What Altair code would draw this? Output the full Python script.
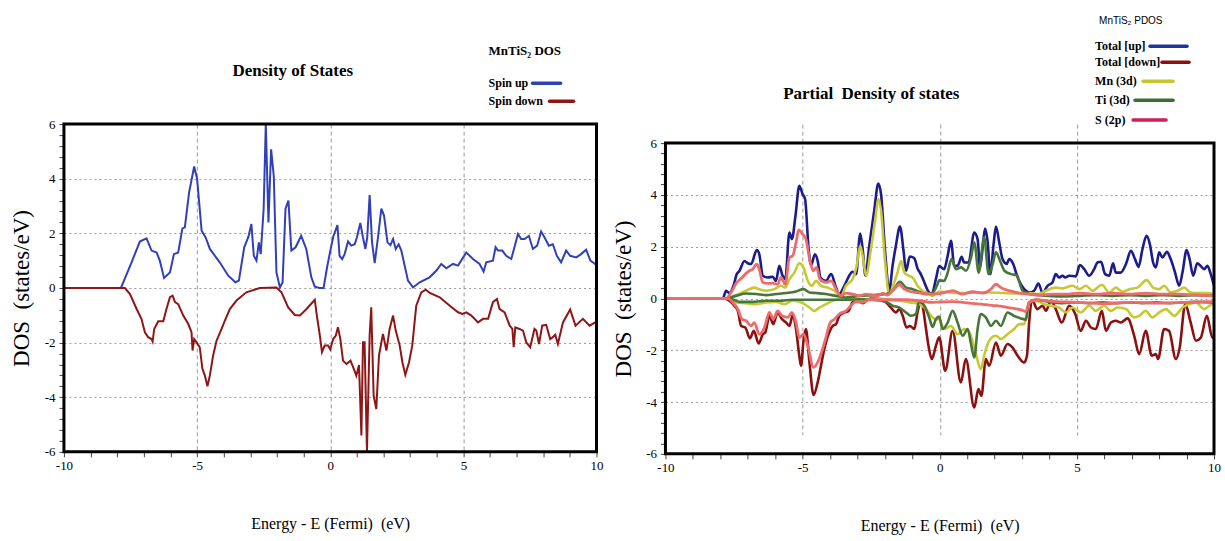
import altair as alt
import pandas as pd

# ---------------- data: left panel (MnTiS2 total DOS) ----------------
spin_up = [(-10, 0), (-7.86, 0), (-7.46, 0.94), (-7.15, 1.70), (-6.9, 1.82), (-6.71, 1.37), (-6.52, 1.30),
           (-6.4, 1.0), (-6.24, 0.37), (-6.02, 0.57), (-5.87, 1.24), (-5.71, 1.30), (-5.55, 2.18), (-5.46, 2.22),
           (-5.3, 3.5), (-5.11, 4.45), (-5.0, 4.0), (-4.83, 2.1), (-4.68, 1.85), (-4.62, 1.7), (-4.52, 1.43),
           (-4.15, 0.94), (-3.83, 0.45), (-3.56, 0.21), (-3.43, 0.27), (-3.23, 1.49), (-3.08, 1.85), (-2.96, 2.34),
           (-2.87, 1.18), (-2.77, 1.0), (-2.68, 1.67), (-2.61, 1.24), (-2.5, 2.9), (-2.42, 6.0), (-2.32, 2.4),
           (-2.22, 5.08), (-2.12, 4.1), (-2.02, 0.57), (-1.89, 0.02), (-1.79, 0.2), (-1.68, 2.9), (-1.57, 3.2),
           (-1.46, 1.37), (-1.3, 1.49), (-1.09, 1.91), (-0.9, 1.43), (-0.71, 0.39), (-0.58, 0.05), (-0.4, 0.0),
           (-0.25, 0.0), (-0.12, 0.75), (0.0, 1.35), (0.12, 1.9), (0.27, 2.3), (0.35, 1.18), (0.45, 1.06),
           (0.54, 1.24), (0.67, 1.7), (0.79, 1.55), (0.92, 1.6), (1.0, 1.85), (1.13, 2.38), (1.23, 1.85),
           (1.32, 1.43), (1.39, 1.85), (1.48, 3.4), (1.57, 1.67), (1.67, 0.91), (1.8, 1.91), (1.92, 2.91),
           (2.02, 2.65), (2.15, 1.67), (2.26, 1.57), (2.36, 1.79), (2.46, 1.43), (2.57, 1.6), (2.67, 1.37),
           (2.92, 0.27), (3.11, 0.02), (3.36, 0.21), (3.73, 0.39), (3.98, 0.63), (4.17, 0.88), (4.36, 0.72),
           (4.61, 0.88), (4.8, 0.82), (5.11, 1.3), (5.36, 1.06), (5.61, 0.88), (5.76, 0.6), (5.86, 0.94),
           (6.11, 1.0), (6.21, 1.49), (6.3, 1.37), (6.46, 1.37), (6.61, 1.18), (6.8, 1.06), (7.05, 1.98),
           (7.17, 1.79), (7.3, 1.79), (7.46, 1.91), (7.61, 1.43), (7.77, 1.55), (7.92, 2.07), (8.05, 1.85),
           (8.21, 1.55), (8.36, 1.6), (8.51, 1.18), (8.67, 0.94), (8.86, 1.37), (9.01, 1.18), (9.24, 1.12),
           (9.42, 1.24), (9.61, 1.4), (9.77, 1.0), (10.0, 0.84)]

spin_down = [(-10, 0), (-7.71, 0), (-7.52, -0.22), (-7.27, -0.77), (-7.09, -1.13), (-6.96, -1.62), (-6.84, -1.8),
             (-6.71, -1.87), (-6.67, -1.96), (-6.61, -1.5), (-6.46, -1.22), (-6.27, -1.22), (-6.15, -0.77),
             (-6.02, -0.34), (-5.92, -0.28), (-5.83, -0.52), (-5.71, -0.59), (-5.52, -1.01), (-5.33, -1.32),
             (-5.21, -1.62), (-5.17, -2.29), (-5.11, -1.87), (-5.02, -1.99), (-4.9, -2.17), (-4.8, -2.96),
             (-4.71, -3.2), (-4.61, -3.6), (-4.52, -3.2), (-4.4, -2.48), (-4.27, -1.93), (-4.08, -1.5),
             (-3.96, -1.2), (-3.77, -0.77), (-3.52, -0.46), (-3.15, -0.16), (-2.65, 0.0), (-2.02, 0.02),
             (-1.83, -0.16), (-1.58, -0.71), (-1.33, -0.99), (-1.14, -1.01), (-0.89, -0.77), (-0.58, -0.43),
             (-0.52, -0.89), (-0.39, -1.74), (-0.31, -2.35), (-0.21, -2.11), (-0.08, -2.11), (0.0, -2.25),
             (0.11, -1.87), (0.21, -1.74), (0.29, -1.44), (0.38, -1.87), (0.48, -2.66), (0.61, -2.78),
             (0.76, -2.66), (0.86, -2.9), (0.98, -3.21), (1.08, -2.82), (1.17, -5.4), (1.23, -1.99),
             (1.29, -1.99), (1.38, -6.0), (1.48, -1.74), (1.54, -0.71), (1.63, -3.94), (1.73, -4.43),
             (1.83, -2.48), (1.98, -1.68), (2.11, -2.29), (2.23, -1.5), (2.36, -1.01), (2.46, -1.56),
             (2.61, -2.11), (2.71, -2.72), (2.82, -3.18), (2.96, -2.72), (3.08, -2.11), (3.23, -0.65),
             (3.42, -0.16), (3.59, -0.06), (3.74, -0.18), (4.11, -0.34), (4.49, -0.65), (4.8, -0.89),
             (4.96, -0.95), (5.11, -0.89), (5.3, -1.01), (5.55, -1.26), (5.74, -1.13), (5.93, -1.13),
             (6.11, -0.52), (6.26, -0.4), (6.36, -0.77), (6.55, -0.89), (6.74, -1.38), (6.84, -1.5),
             (6.89, -2.17), (6.95, -1.44), (7.11, -1.5), (7.24, -1.56), (7.36, -1.99), (7.51, -2.17),
             (7.67, -1.5), (7.74, -1.56), (7.84, -2.05), (7.96, -1.38), (8.11, -1.35), (8.26, -1.87),
             (8.36, -1.8), (8.45, -1.71), (8.55, -2.05), (8.74, -1.26), (9.01, -0.79), (9.21, -1.38),
             (9.49, -1.13), (9.74, -1.38), (10.0, -1.23)]

# ---------------- data: right panel (partial DOS) ----------------
total_up = [(-10, 0), (-7.91, 0), (-7.79, 0.3), (-7.67, 0.21), (-7.52, 0.49), (-7.4, 0.94), (-7.3, 1.07),
            (-7.12, 1.45), (-7.0, 1.36), (-6.88, 1.33), (-6.67, 1.87), (-6.58, 1.71), (-6.45, 0.88),
            (-6.27, 0.81), (-6.09, 0.84), (-5.97, 0.68), (-5.85, 1.26), (-5.73, 0.88), (-5.63, 0.75),
            (-5.48, 2.55), (-5.39, 2.29), (-5.26, 3.19), (-5.12, 4.35), (-5.0, 4.03), (-4.91, 3.84),
            (-4.78, 1.9), (-4.69, 1.29), (-4.55, 1.71), (-4.45, 1.45), (-4.35, 0.81), (-4.15, 0.68),
            (-3.96, 0.94), (-3.78, 0.42), (-3.66, 0.17), (-3.48, 0.49), (-3.3, 0.88), (-3.18, 1.03),
            (-3.05, 0.94), (-2.9, 2.51), (-2.81, 1.9), (-2.71, 0.88), (-2.57, 2.03), (-2.39, 3.38),
            (-2.24, 4.44), (-2.14, 4.03), (-1.99, 1.78), (-1.84, 0.3), (-1.72, 1.26), (-1.6, 2.03),
            (-1.45, 2.78), (-1.32, 1.84), (-1.23, 1.07), (-1.09, 1.62), (-0.93, 1.56), (-0.81, 1.16),
            (-0.69, 0.94), (-0.56, 0.62), (-0.41, 0.26), (-0.29, 0.17), (-0.14, 0.75), (-0.02, 1.25),
            (0.16, 1.13), (0.29, 1.65), (0.41, 2.23), (0.53, 1.26), (0.65, 1.26), (0.8, 1.61), (0.89, 1.39),
            (1.05, 1.39), (1.26, 2.55), (1.38, 2.29), (1.47, 1.2), (1.56, 1.9), (1.65, 2.7), (1.75, 2.16),
            (1.84, 0.94), (1.97, 2.16), (2.05, 2.78), (2.17, 2.16), (2.29, 1.52), (2.44, 1.33), (2.53, 1.52),
            (2.68, 1.33), (2.8, 0.94), (2.92, 0.62), (3.08, 0.36), (3.26, 0.23), (3.44, 0.3), (3.6, 0.58),
            (3.75, 0.21), (3.93, 0.49), (4.11, 0.62), (4.23, 0.94), (4.35, 0.81), (4.48, 0.88), (4.57, 0.81),
            (4.72, 0.88), (4.96, 0.85), (5.11, 1.29), (5.27, 1.13), (5.45, 0.88), (5.63, 1.13), (5.75, 1.39),
            (5.88, 1.42), (6.03, 0.94), (6.18, 0.88), (6.32, 1.36), (6.42, 1.0), (6.6, 1.0), (6.79, 1.33),
            (6.97, 1.84), (7.12, 1.52), (7.25, 1.22), (7.39, 1.9), (7.54, 2.42), (7.66, 2.1), (7.78, 1.39),
            (7.88, 1.2), (8.0, 1.78), (8.12, 1.58), (8.28, 1.8), (8.42, 1.52), (8.58, 1.0), (8.73, 0.49),
            (8.85, 1.0), (9.0, 1.87), (9.11, 1.52), (9.24, 0.88), (9.39, 1.36), (9.51, 1.26), (9.64, 1.13),
            (9.76, 1.26), (9.88, 0.94), (10.0, 0.49)]

total_down = [(-10, 0), (-7.85, 0), (-7.67, -0.09), (-7.49, -0.28), (-7.36, -0.48), (-7.24, -1.06), (-7.09, -1.12),
              (-6.92, -1.54), (-6.78, -1.25), (-6.6, -1.74), (-6.45, -1.38), (-6.36, -1.31), (-6.21, -0.67),
              (-6.07, -0.99), (-5.91, -0.54), (-5.75, -0.8), (-5.6, -0.93), (-5.48, -1.06), (-5.36, -0.64),
              (-5.24, -1.18), (-5.12, -2.21), (-5.06, -2.6), (-4.96, -1.57), (-4.88, -1.18), (-4.75, -2.47),
              (-4.6, -3.73), (-4.45, -3.24), (-4.33, -2.6), (-4.21, -1.96), (-4.03, -1.31), (-3.9, -1.06),
              (-3.78, -0.99), (-3.66, -0.67), (-3.48, -0.54), (-3.32, -0.48), (-3.18, -0.15), (-2.99, -0.09),
              (-2.81, -0.18), (-2.63, -0.05), (-2.45, 0.02), (-2.2, -0.03), (-1.96, -0.15), (-1.78, -0.35),
              (-1.6, -0.54), (-1.47, -0.41), (-1.35, -0.67), (-1.21, -1.12), (-1.09, -1.06), (-0.93, -1.18),
              (-0.81, -0.54), (-0.71, -0.15), (-0.63, -0.28), (-0.5, -1.18), (-0.41, -1.83), (-0.29, -2.34),
              (-0.14, -1.83), (-0.02, -1.5), (0.2, -2.79), (0.47, -1.25), (0.77, -3.24), (0.95, -2.34),
              (1.26, -4.21), (1.41, -3.5), (1.52, -3.76), (1.68, -2.34), (1.8, -2.6), (2.05, -1.7),
              (2.23, -2.21), (2.47, -1.76), (2.65, -1.89), (2.84, -2.21), (3.08, -2.47), (3.18, -2.21),
              (3.26, -0.93), (3.38, -0.09), (3.56, -0.41), (3.75, -0.28), (3.87, -0.48), (4.05, -0.09),
              (4.23, -0.41), (4.45, -0.93), (4.72, -0.28), (4.94, -0.6), (5.14, -1.25), (5.33, -0.86),
              (5.51, -1.12), (5.69, -1.18), (5.91, -0.48), (6.06, -1.25), (6.24, -0.93), (6.42, -0.86),
              (6.6, -0.93), (6.85, -0.77), (7.09, -1.44), (7.27, -2.15), (7.51, -1.25), (7.73, -2.21),
              (7.88, -2.15), (7.96, -2.34), (8.18, -1.18), (8.36, -1.25), (8.61, -2.34), (8.75, -1.89),
              (8.95, -0.22), (9.15, -0.93), (9.34, -1.63), (9.52, -1.51), (9.74, -0.67), (9.94, -1.51),
              (10.0, -1.5)]

mn_up = [(-10, 0), (-7.9, 0), (-7.43, 0.13), (-7.06, 0.3), (-6.76, 0.42), (-6.58, 0.36), (-6.33, 0.3),
         (-6.03, 0.36), (-5.79, 0.49), (-5.63, 0.42), (-5.48, 0.75), (-5.3, 1.0), (-5.12, 1.36), (-4.97, 1.2),
         (-4.81, 0.68), (-4.66, 0.49), (-4.51, 0.68), (-4.33, 0.49), (-4.09, 0.42), (-3.84, 0.3), (-3.6, 0.1),
         (-3.42, 0.49), (-3.18, 0.75), (-3.03, 1.26), (-2.9, 2.03), (-2.79, 1.52), (-2.69, 0.88), (-2.51, 1.9),
         (-2.35, 3.06), (-2.24, 3.84), (-2.14, 3.38), (-1.99, 1.39), (-1.84, 0.17), (-1.66, 0.62), (-1.54, 1.0),
         (-1.41, 1.45), (-1.29, 1.0), (-1.14, 0.88), (-0.99, 0.81), (-0.81, 0.49), (-0.63, 0.3), (-0.44, 0.21),
         (-0.26, 0.1), (-0.02, 0.27), (0.35, 0.23), (0.83, 0.21), (1.32, 0.23), (1.8, 0.23), (2.29, 0.21),
         (2.78, 0.19), (3.26, 0.21), (3.62, 0.17), (3.87, 0.3), (4.23, 0.42), (4.48, 0.39), (4.84, 0.49),
         (5.09, 0.36), (5.33, 0.49), (5.57, 0.3), (5.91, 0.53), (6.18, 0.23), (6.42, 0.42), (6.66, 0.26),
         (6.91, 0.36), (7.21, 0.42), (7.54, 0.71), (7.78, 0.42), (8.0, 0.36), (8.18, 0.49), (8.42, 0.23),
         (8.67, 0.3), (8.91, 0.42), (9.15, 0.23), (9.45, 0.21), (9.76, 0.21), (10.0, 0.17)]

mn_down = [(-10, 0), (-7.67, 0), (-7.43, -0.15), (-7.06, -0.18), (-6.7, -0.22), (-6.33, -0.15), (-5.97, -0.13),
           (-5.66, -0.22), (-5.36, -0.09), (-5.0, -0.18), (-4.75, -0.35), (-4.57, -0.48), (-4.39, -0.35),
           (-4.15, -0.22), (-3.9, -0.09), (-3.6, -0.03), (-3.18, -0.05), (-2.69, -0.03), (-2.2, 0.0),
           (-1.84, -0.05), (-1.47, -0.09), (-1.11, -0.15), (-0.75, -0.22), (-0.5, -0.41), (-0.32, -0.67),
           (-0.14, -0.8), (-0.02, -0.8), (0.16, -1.18), (0.41, -1.06), (0.65, -1.38), (0.89, -1.18),
           (1.08, -1.31), (1.32, -2.15), (1.5, -2.73), (1.62, -2.21), (1.8, -1.63), (2.05, -1.44),
           (2.23, -1.57), (2.47, -1.38), (2.71, -1.18), (2.9, -0.99), (3.08, -0.99), (3.26, -0.15),
           (3.5, -0.09), (3.81, -0.22), (4.05, -0.28), (4.35, -0.35), (4.6, -0.54), (4.84, -0.35),
           (5.14, -0.54), (5.45, -0.28), (5.69, -0.48), (5.99, -0.28), (6.24, -0.48), (6.48, -0.35),
           (6.79, -0.41), (7.09, -0.73), (7.27, -0.67), (7.51, -0.48), (7.76, -0.73), (8.0, -0.54),
           (8.24, -0.41), (8.55, -0.67), (8.85, -0.35), (9.09, -0.22), (9.34, -0.15), (9.64, -0.41),
           (9.94, -0.22), (10.0, -0.22)]

ti_up = [(-10, 0), (-7.79, 0), (-7.43, 0.1), (-7.06, 0.19), (-6.7, 0.17), (-6.33, 0.13), (-5.97, 0.17),
         (-5.6, 0.21), (-5.24, 0.27), (-4.97, 0.36), (-4.75, 0.23), (-4.51, 0.21), (-4.15, 0.17), (-3.78, 0.1),
         (-3.42, 0.04), (-2.93, 0.1), (-2.45, 0.13), (-1.96, 0.17), (-1.72, 0.3), (-1.45, 0.64), (-1.23, 0.42),
         (-0.99, 0.36), (-0.75, 0.26), (-0.5, 0.17), (-0.26, 0.21), (-0.1, 0.5), (-0.02, 0.7), (0.16, 0.68),
         (0.29, 1.0), (0.43, 1.52), (0.59, 1.13), (0.78, 1.2), (0.96, 1.07), (1.14, 1.58), (1.26, 2.16),
         (1.42, 1.0), (1.62, 2.36), (1.78, 0.94), (1.93, 1.33), (2.05, 1.78), (2.2, 1.45), (2.36, 1.07),
         (2.6, 0.94), (2.8, 0.9), (3.02, 0.3), (3.26, 0.17), (3.62, 0.13), (3.99, 0.1), (4.48, 0.08),
         (5.09, 0.1), (5.69, 0.13), (6.3, 0.1), (6.91, 0.13), (7.51, 0.1), (8.12, 0.13), (8.73, 0.1),
         (9.33, 0.13), (10.0, 0.1)]

ti_down = [(-10, 0), (-7.67, 0), (-7.3, -0.13), (-6.82, -0.13), (-6.33, -0.09), (-5.85, -0.09), (-5.36, -0.05),
           (-4.88, -0.05), (-4.39, -0.05), (-3.9, -0.05), (-3.42, -0.05), (-2.93, -0.03), (-2.45, -0.05),
           (-1.96, -0.13), (-1.72, -0.28), (-1.47, -0.35), (-1.23, -0.54), (-1.05, -0.67), (-0.87, -0.6),
           (-0.75, -0.09), (-0.56, -0.28), (-0.38, -0.75), (-0.26, -1.1), (-0.14, -0.8), (-0.02, -0.7),
           (0.1, -1.18), (0.29, -0.93), (0.47, -0.48), (0.65, -0.93), (0.84, -1.44), (1.02, -1.18),
           (1.14, -1.76), (1.26, -2.28), (1.38, -1.18), (1.5, -0.6), (1.68, -0.73), (1.87, -1.06),
           (2.05, -0.86), (2.23, -1.06), (2.47, -0.54), (2.71, -0.67), (2.96, -0.77), (3.14, -0.82),
           (3.26, -0.15), (3.5, -0.05), (3.99, -0.13), (4.48, -0.18), (4.96, -0.15), (5.45, -0.18),
           (5.93, -0.15), (6.42, -0.18), (6.91, -0.15), (7.39, -0.18), (7.88, -0.15), (8.36, -0.18),
           (8.85, -0.15), (9.33, -0.13), (10.0, -0.15)]

s_up = [(-10, 0), (-7.79, 0), (-7.61, 0.23), (-7.4, 0.62), (-7.24, 0.77), (-7.09, 0.94), (-6.94, 1.07),
        (-6.82, 1.13), (-6.67, 1.33), (-6.58, 1.13), (-6.45, 0.62), (-6.27, 0.58), (-6.09, 0.59), (-5.91, 0.55),
        (-5.79, 0.81), (-5.63, 0.55), (-5.48, 1.58), (-5.36, 1.65), (-5.24, 2.16), (-5.14, 2.65), (-5.0, 2.48),
        (-4.88, 2.29), (-4.73, 1.45), (-4.61, 1.07), (-4.49, 1.2), (-4.37, 0.75), (-4.15, 0.62), (-3.96, 0.68),
        (-3.78, 0.36), (-3.6, 0.1), (-3.42, 0.21), (-3.18, 0.17), (-2.93, 0.1), (-2.69, 0.17), (-2.45, 0.13),
        (-2.26, 0.1), (-2.08, 0.21), (-1.92, 0.13), (-1.72, 0.3), (-1.47, 0.53), (-1.29, 0.36), (-1.05, 0.26),
        (-0.81, 0.23), (-0.5, 0.17), (-0.02, 0.19), (0.29, 0.26), (0.47, 0.3), (0.83, 0.17), (1.2, 0.26),
        (1.56, 0.21), (1.87, 0.36), (2.05, 0.55), (2.23, 0.42), (2.53, 0.3), (2.9, 0.21), (3.26, 0.17),
        (3.62, 0.13), (4.11, 0.17), (4.6, 0.17), (5.09, 0.21), (5.69, 0.17), (6.3, 0.21), (6.91, 0.17),
        (7.51, 0.21), (8.12, 0.17), (8.73, 0.17), (9.33, 0.13), (10.0, 0.1)]

s_down = [(-10, 0), (-7.73, 0), (-7.55, -0.15), (-7.36, -0.41), (-7.21, -0.8), (-7.06, -0.86), (-6.88, -1.06),
          (-6.76, -0.93), (-6.58, -1.38), (-6.39, -1.12), (-6.21, -0.54), (-6.07, -0.8), (-5.91, -0.48),
          (-5.75, -0.67), (-5.54, -0.73), (-5.39, -0.54), (-5.24, -0.93), (-5.12, -1.51), (-4.97, -1.38),
          (-4.81, -1.83), (-4.6, -2.66), (-4.45, -2.47), (-4.29, -2.02), (-4.15, -1.51), (-3.99, -0.93),
          (-3.84, -0.8), (-3.66, -0.6), (-3.42, -0.48), (-3.24, -0.28), (-3.05, -0.13), (-2.81, -0.15),
          (-2.57, -0.05), (-2.2, -0.05), (-1.72, -0.05), (-1.23, -0.05), (-0.75, -0.09), (-0.26, -0.15),
          (0.5, -0.12), (1.0, -0.17), (1.5, -0.22), (2.05, -0.28), (2.5, -0.35), (3.0, -0.45), (3.14, -0.5),
          (3.26, -0.15), (3.5, -0.05), (4.0, -0.1), (5.0, -0.15), (6.0, -0.2), (7.0, -0.15), (8.0, -0.18),
          (9.0, -0.15), (10.0, -0.12)]

# legend / series names and colours
left_names = ["Spin up", "Spin down"]
left_colors = ["#3140B8", "#8E1616"]
right_names = ["Total [up]", "Total [down]", "Mn (3d)", "Ti (3d)", "S (2p)"]
right_legend_colors = ["#23319E", "#8B1010", "#C6C630", "#3F6E33", "#D01F5A"]
right_line_colors = {"tu": "#1C1C8C", "td": "#8B1010", "mn": "#C8C832", "ti": "#46763A", "s": "#EE6B6B"}

x_ticks = list(range(-10, 11))
y_ticks = [round(-6 + 0.4 * i, 1) for i in range(31)]

SERIF = "Liberation Serif"


def make_axes(x_title_y):
    x_axis = alt.Axis(
        values=x_ticks, labelExpr="datum.value % 5 === 0 ? '' + datum.value : ''", labelOverlap=False,
        grid=True, gridDash=[4, 3], gridColor="#9a9a9a", gridWidth=1,
        gridOpacity={"condition": {"test": "datum.value % 5 === 0 && abs(datum.value) < 10", "value": 1},
                     "value": 0},
        domain=False, ticks=True, tickSize=5, tickColor="#444444", tickWidth=1,
        labelFont=SERIF, labelFontSize=13, labelColor="black", labelPadding=3, labelFlush=False,
        title="Energy - E (Fermi)\u00a0\u00a0(eV)", titleFont=SERIF, titleFontSize=16, titleFontWeight="normal",
        titleColor="black", titleY=x_title_y, titleBaseline="middle")
    y_axis = alt.Axis(
        values=y_ticks,
        labelExpr="abs(datum.value - round(datum.value / 2) * 2) < 0.01 ? '' + datum.value : ''",
        labelOverlap=False, grid=True, gridDash=[2, 3], gridColor="#9a9a9a", gridWidth=1,
        gridOpacity={"condition": {"test": "abs(datum.value) < 5.9 && "
                                           "abs(datum.value - round(datum.value / 2) * 2) < 0.01",
                                   "value": 1}, "value": 0},
        domain=False, ticks=True, tickSize=5, tickColor="#444444", tickWidth=1,
        labelFont=SERIF, labelFontSize=13, labelColor="black", labelPadding=4, labelFlush=False,
        title="DOS\u00a0\u00a0(states/eV)", titleFont=SERIF, titleFontSize=23, titleFontWeight="normal",
        titleColor="black", titleX=-42, titleBaseline="middle")
    return x_axis, y_axis


def make_panel(series, y_scale, x_title_y, title, title_pos, leg_title, leg_title_pos, leg_title_font,
               names, colors, label_x, label_ys, rule_spans, label_size, width, height):
    x_axis, y_axis = make_axes(x_title_y)
    X = alt.X("E:Q", scale=alt.Scale(domain=[-10, 10], nice=False, zero=False), axis=x_axis)
    Y = alt.Y("DOS:Q", scale=y_scale, axis=y_axis)
    layers = []
    for pts, color, sw, interp in series:
        df = pd.DataFrame(pts, columns=["E", "DOS"])
        layers.append(alt.Chart(df).mark_line(color=color, strokeWidth=sw, interpolate=interp, clip=True)
                      .encode(x=X, y=Y))
    frame = pd.DataFrame({"E": [-10], "E2": [10], "DOS": [-6], "DOS2": [6]})
    layers.append(alt.Chart(frame).mark_rect(fillOpacity=0, stroke="black", strokeWidth=3)
                  .encode(x=X, x2="E2:Q", y=Y, y2="DOS2:Q"))
    # panel title
    layers.append(alt.Chart(pd.DataFrame({"t": [title]})).mark_text(
        font=SERIF, fontSize=17, fontWeight="bold", align="center", baseline="middle", color="black")
        .encode(x=alt.value(title_pos[0]), y=alt.value(title_pos[1]), text="t:N"))
    # legend
    layers.append(alt.Chart(pd.DataFrame({"t": [leg_title]})).mark_text(
        align="left", baseline="middle", color="black", **leg_title_font)
        .encode(x=alt.value(leg_title_pos[0]), y=alt.value(leg_title_pos[1]), text="t:N"))
    for name, color, ly, (r0, r1) in zip(names, colors, label_ys, rule_spans):
        d = pd.DataFrame({"t": [name]})
        layers.append(alt.Chart(d).mark_text(font=SERIF, fontSize=label_size, fontWeight="bold",
                                             align="left", baseline="middle", color="black")
                      .encode(x=alt.value(label_x), y=alt.value(ly), text="t:N"))
        layers.append(alt.Chart(d).mark_rule(color=color, strokeWidth=3.5, strokeCap="round")
                      .encode(x=alt.value(r0), x2=alt.value(r1), y=alt.value(ly)))
    return alt.layer(*layers).properties(width=width, height=height)


left = make_panel(
    series=[(spin_up, left_colors[0], 2, "linear"), (spin_down, left_colors[1], 2, "linear")],
    y_scale=alt.Scale(domain=[-6, 6], nice=False, zero=False), x_title_y=72,
    title="Density of States", title_pos=(229, -53),
    leg_title="MnTiS\u2082 DOS", leg_title_pos=(425, -73),
    leg_title_font={"font": SERIF, "fontSize": 13, "fontWeight": "bold"},
    names=left_names, colors=left_colors, label_x=425, label_ys=[-41, -23],
    rule_spans=[(469, 497), (486, 510)], label_size=12, width=533, height=328)

right = make_panel(
    series=[(total_up, right_line_colors["tu"], 2.6, "monotone"),
            (total_down, right_line_colors["td"], 2.6, "monotone"),
            (mn_up, right_line_colors["mn"], 2.6, "monotone"),
            (mn_down, right_line_colors["mn"], 2.6, "monotone"),
            (ti_up, right_line_colors["ti"], 2.6, "monotone"),
            (ti_down, right_line_colors["ti"], 2.6, "monotone"),
            (s_up, right_line_colors["s"], 2.8, "monotone"),
            (s_down, right_line_colors["s"], 2.8, "monotone")],
    y_scale=alt.Scale(domain=[-6, 6], range=[330, 19], nice=False, zero=False), x_title_y=72,
    title="Partial\u00a0\u00a0Density of states", title_pos=(206, -30),
    leg_title="MnTiS\u2082 PDOS", leg_title_pos=(434, -103),
    leg_title_font={"font": "Liberation Sans", "fontSize": 10},
    names=right_names, colors=right_legend_colors, label_x=430, label_ys=[-78, -62, -43, -24, -4],
    rule_spans=[(485, 522), (497, 524), (478, 508), (470, 508), (468, 501)], label_size=12,
    width=549, height=330)

chart = alt.hconcat(left, right, spacing=69, bounds="flush").properties(
    padding={"left": 11, "top": 16, "right": 4, "bottom": 4}, background="white"
).configure_view(strokeWidth=0)

chart.save("out.html", embed_options={"renderer": "svg", "actions": False})
